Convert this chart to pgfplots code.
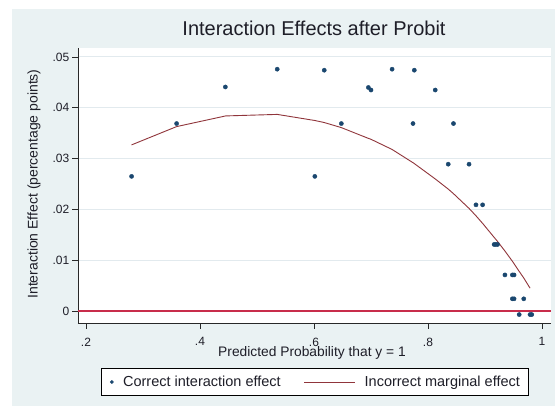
\documentclass[border=0pt]{standalone}
\usepackage{pgfplots}
\pgfplotsset{compat=1.18}
\usepackage{fontspec}
\setmainfont{Liberation Sans}
\definecolor{bgc}{RGB}{234,242,243}
\definecolor{gridc}{RGB}{226,234,238}
\definecolor{navy}{RGB}{26,71,111}
\definecolor{maroon}{RGB}{144,53,59}
\definecolor{zline}{RGB}{200,45,75}
\definecolor{axc}{RGB}{40,40,40}
\definecolor{txt}{RGB}{30,30,40}
\begin{document}
\begin{tikzpicture}[x=1pt,y=1pt]
\fill[white] (0,0) rectangle (555,-410);
\fill[bgc] (12,-9) rectangle (555,-406);
\begin{axis}[
  at={(78pt,-323pt)}, anchor=south west,
  width=473pt, height=275pt, scale only axis,
  xmin=0.186, xmax=1.0158, ymin=-0.002362, ymax=0.05177,
  axis background/.style={fill=white},
  axis x line*=bottom, axis y line*=left,
  axis line style={axc, line width=0.9pt},
  xtick={0.2,0.4,0.6,0.8,1}, xticklabels={.2,.4,.6,.8,1},
  ytick={0,0.01,0.02,0.03,0.04,0.05}, yticklabels={0,.01,.02,.03,.04,.05},
  scaled y ticks=false,
  tick align=outside, xtick align=outside, ytick align=outside,
  major tick length=5.5pt,
  tick style={axc, line width=0.8pt},
  ymajorgrids, grid style={gridc, line width=1pt},
  ticklabel style={font=\fontsize{12}{14}\selectfont, text=txt},
  xticklabel style={inner sep=0pt, yshift=-9pt},
  yticklabel style={inner sep=0pt, xshift=-3pt},
  title={Interaction Effects after Probit},
  title style={at={(axis description cs:0.499,1.0229)}, anchor=base, font=\fontsize{20}{24}\selectfont, text=txt, inner sep=0pt},
  xlabel={Predicted Probability that y = 1},
  xlabel style={at={(axis description cs:0.4947,0)}, anchor=base, yshift=-33.7pt, font=\fontsize{13.8}{16}\selectfont, text=txt, inner sep=0pt},
  ylabel={Interaction Effect (percentage points)},
  ylabel style={at={(axis description cs:-0.0856,0.5055)}, anchor=base, font=\fontsize{14}{16}\selectfont, text=txt, inner sep=0pt},
  legend columns=2,
  legend style={at={(axis description cs:0.501,-0.2145)}, anchor=center,
    draw=black, line width=0.8pt, fill=white,
    font=\fontsize{14.5}{17}\selectfont, text=txt,
    inner xsep=8.5pt, inner ysep=5pt,
    nodes={inner xsep=0pt, inner ysep=2.3pt},
    /tikz/column 1/.style={column sep=9.5pt},
    /tikz/column 2/.style={column sep=23pt},
    /tikz/column 3/.style={column sep=9pt}},
]
\addplot[zline, line width=1.2pt, forget plot] coordinates {(0.186,0) (1.0158,0)};
\addplot[only marks, mark=*, mark size=2.1pt, mark options={draw=navy, fill=navy},
  legend image code/.code={\fill[navy] (0pt,0pt) circle (1.4pt);}]
  table {
x y
0.280 0.0265
0.359 0.0369
0.4445 0.0441
0.5355 0.0476
0.6015 0.0265
0.618 0.0474
0.648 0.0369
0.6954 0.0440
0.700 0.0435
0.737 0.0476
0.7737 0.0369
0.776 0.0474
0.8127 0.0435
0.8355 0.0289
0.8447 0.0369
0.872 0.0289
0.8842 0.0209
0.8958 0.0209
0.916 0.0131
0.919 0.0131
0.922 0.0131
0.935 0.0071
0.948 0.0071
0.951 0.0071
0.948 0.0024
0.951 0.0024
0.968 0.0024
0.960 -0.0007
0.979 -0.0007
0.982 -0.0007
};
\addlegendentry{Correct interaction effect}
\addplot[maroon, line width=0.9pt,
  legend image code/.code={\draw[maroon, line width=0.9pt] (0pt,0pt) -- (51pt,0pt);}]
  table {
x y
0.280 0.0327
0.359 0.0363
0.445 0.0384
0.5355 0.0387
0.6015 0.0375
0.618 0.0371
0.648 0.0361
0.695 0.0340
0.700 0.0338
0.737 0.0318
0.775 0.0291
0.8127 0.0260
0.8355 0.0240
0.8447 0.0231
0.872 0.0202
0.8845 0.0187
0.8962 0.0172
0.916 0.0145
0.922 0.0137
0.935 0.0118
0.948 0.0098
0.951 0.0093
0.960 0.0078
0.968 0.0065
0.979 0.0045
};
\addlegendentry{Incorrect marginal effect}
\end{axis}
\end{tikzpicture}
\end{document}
